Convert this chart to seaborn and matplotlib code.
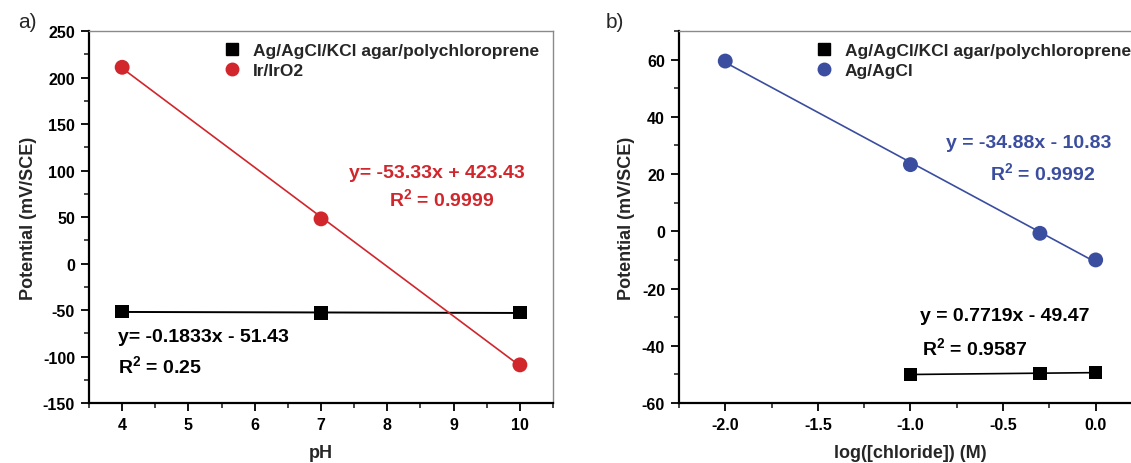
import numpy as np
import pandas as pd
import matplotlib
matplotlib.use("Agg")
import matplotlib.pyplot as plt
from matplotlib.lines import Line2D
from matplotlib.ticker import MultipleLocator, FormatStrFormatter
import seaborn as sns

# ---- data ----
ph = [4, 7, 10]
ph_ref_electrode = [-51.8, -53.2, -52.9]
ph_iro2 = [211.0, 48.0, -109.0]

log_cl = [-1.0, -0.301, 0.0]
cl_ref_electrode = [-50.0, -49.7, -49.3]
log_cl_agcl = [-2.0, -1.0, -0.301, 0.0]
cl_agcl = [59.5, 23.3, -0.7, -10.0]

label_ref = "Ag/AgCl/KCl agar/polychloroprene"
label_iro2 = "Ir/IrO2"
label_agcl = "Ag/AgCl"

eq_ref_ph = "y= -0.1833x - 51.43"
r2_ref_ph = "R$^{\\mathregular{2}}$ = 0.25"
eq_iro2 = "y= -53.33x + 423.43"
r2_iro2 = "R$^{\\mathregular{2}}$ = 0.9999"
eq_agcl = "y = -34.88x - 10.83"
r2_agcl = "R$^{\\mathregular{2}}$ = 0.9992"
eq_ref_cl = "y = 0.7719x - 49.47"
r2_ref_cl = "R$^{\\mathregular{2}}$ = 0.9587"

RED = "#d0262c"
BLUE = "#3a4d9f"
BLACK = "#000000"

sns.set_style("ticks")
plt.rcParams["font.family"] = ["Liberation Sans", "DejaVu Sans"]
plt.rcParams["font.weight"] = "bold"
plt.rcParams["axes.unicode_minus"] = False
plt.rcParams["mathtext.fontset"] = "custom"
plt.rcParams["mathtext.rm"] = "Liberation Sans:bold"
plt.rcParams["mathtext.it"] = "Liberation Sans:bold"
plt.rcParams["mathtext.bf"] = "Liberation Sans:bold"

fig = plt.figure(figsize=(11.31, 4.64), dpi=100)
axA = fig.add_axes([0.0787, 0.1293, 0.4103, 0.8017])
axB = fig.add_axes([0.6003, 0.1293, 0.4094, 0.8017])

def style_axes(ax):
    for side in ["left", "bottom"]:
        ax.spines[side].set_linewidth(1.6)
        ax.spines[side].set_color("black")
    for side in ["top", "right"]:
        ax.spines[side].set_visible(True)
        ax.spines[side].set_linewidth(1.0)
        ax.spines[side].set_color("#8a8a8a")
    ax.tick_params(axis="both", which="major", direction="out", length=6, width=1.3,
                   labelsize=11.5, colors="black", top=False, right=False, pad=4)
    ax.tick_params(axis="both", which="minor", direction="out", length=3.5, width=1.2,
                   top=False, right=False)
    for lab in ax.get_xticklabels() + ax.get_yticklabels():
        lab.set_fontweight("bold")

SC = {"s": 95, "zorder": 3, "edgecolor": "none", "alpha": 1.0}
CI = {"s": 115, "zorder": 3, "edgecolor": "none", "alpha": 1.0}

# ---- panel a ----
df_a1 = pd.DataFrame({"pH": ph, "E": ph_ref_electrode})
df_a2 = pd.DataFrame({"pH": ph, "E": ph_iro2})
sns.regplot(data=df_a1, x="pH", y="E", ax=axA, ci=None, marker="s", color=BLACK,
            scatter_kws=SC, line_kws={"lw": 1.4})
sns.regplot(data=df_a2, x="pH", y="E", ax=axA, ci=None, marker="o", color=RED,
            scatter_kws=CI, line_kws={"lw": 1.2})
axA.set_xlim(3.5, 10.5)
axA.set_ylim(-150, 250)
axA.xaxis.set_major_locator(MultipleLocator(1))
axA.xaxis.set_minor_locator(MultipleLocator(0.5))
axA.yaxis.set_major_locator(MultipleLocator(50))
axA.yaxis.set_minor_locator(MultipleLocator(25))
axA.set_xlabel("pH", fontsize=13, fontweight="bold", labelpad=9)
axA.set_ylabel("Potential (mV/SCE)", fontsize=13, fontweight="bold")
axA.yaxis.set_label_coords(-0.112, 0.5)
style_axes(axA)

handlesA = [Line2D([], [], ls="none", marker="s", color=BLACK, markersize=8),
            Line2D([], [], ls="none", marker="o", color=RED, markersize=9)]
axA.legend(handlesA, [label_ref, label_iro2], loc="upper left", bbox_to_anchor=(0.26, 1.0),
           frameon=False, prop={"size": 12.5, "weight": "bold"}, handletextpad=0.6,
           labelspacing=0.25, borderaxespad=0.3, handlelength=1.2)

axA.text(0.75, 0.62, eq_iro2, transform=axA.transAxes, ha="center", va="center",
         fontsize=14, fontweight="bold", color=RED)
axA.text(0.76, 0.55, r2_iro2, transform=axA.transAxes, ha="center", va="center",
         fontsize=14, fontweight="bold", color=RED)
axA.text(0.063, 0.178, eq_ref_ph, transform=axA.transAxes, ha="left", va="center",
         fontsize=14, fontweight="bold", color=BLACK)
axA.text(0.063, 0.103, r2_ref_ph, transform=axA.transAxes, ha="left", va="center",
         fontsize=14, fontweight="bold", color=BLACK)

# ---- panel b ----
df_b1 = pd.DataFrame({"logcl": log_cl, "E": cl_ref_electrode})
df_b2 = pd.DataFrame({"logcl": log_cl_agcl, "E": cl_agcl})
sns.regplot(data=df_b1, x="logcl", y="E", ax=axB, ci=None, marker="s", color=BLACK,
            scatter_kws=SC, line_kws={"lw": 1.2})
sns.regplot(data=df_b2, x="logcl", y="E", ax=axB, ci=None, marker="o", color=BLUE,
            scatter_kws=CI, line_kws={"lw": 1.2})
axB.set_xlim(-2.25, 0.25)
axB.set_ylim(-60, 70)
axB.xaxis.set_major_locator(MultipleLocator(0.5))
axB.xaxis.set_minor_locator(MultipleLocator(0.25))
axB.xaxis.set_major_formatter(FormatStrFormatter("%.1f"))
axB.yaxis.set_major_locator(MultipleLocator(20))
axB.yaxis.set_minor_locator(MultipleLocator(10))
axB.set_xlabel("log([chloride]) (M)", fontsize=13, fontweight="bold", labelpad=9)
axB.set_ylabel("Potential (mV/SCE)", fontsize=13, fontweight="bold")
axB.yaxis.set_label_coords(-0.095, 0.5)
style_axes(axB)

handlesB = [Line2D([], [], ls="none", marker="s", color=BLACK, markersize=8),
            Line2D([], [], ls="none", marker="o", color=BLUE, markersize=9)]
axB.legend(handlesB, [label_ref, label_agcl], loc="upper left", bbox_to_anchor=(0.264, 1.0),
           frameon=False, prop={"size": 12.5, "weight": "bold"}, handletextpad=0.6,
           labelspacing=0.25, borderaxespad=0.3, handlelength=1.2)

axB.text(0.755, 0.70, eq_agcl, transform=axB.transAxes, ha="center", va="center",
         fontsize=14, fontweight="bold", color=BLUE)
axB.text(0.785, 0.62, r2_agcl, transform=axB.transAxes, ha="center", va="center",
         fontsize=14, fontweight="bold", color=BLUE)
axB.text(0.52, 0.235, eq_ref_cl, transform=axB.transAxes, ha="left", va="center",
         fontsize=14, fontweight="bold", color=BLACK)
axB.text(0.525, 0.15, r2_ref_cl, transform=axB.transAxes, ha="left", va="center",
         fontsize=14, fontweight="bold", color=BLACK)

fig.text(18 / 1131, 1 - 22 / 464, "a)", fontsize=15, fontweight="normal", va="center", ha="left")
fig.text(606 / 1131, 1 - 22 / 464, "b)", fontsize=15, fontweight="normal", va="center", ha="left")

fig.savefig("out.png", dpi=100)
